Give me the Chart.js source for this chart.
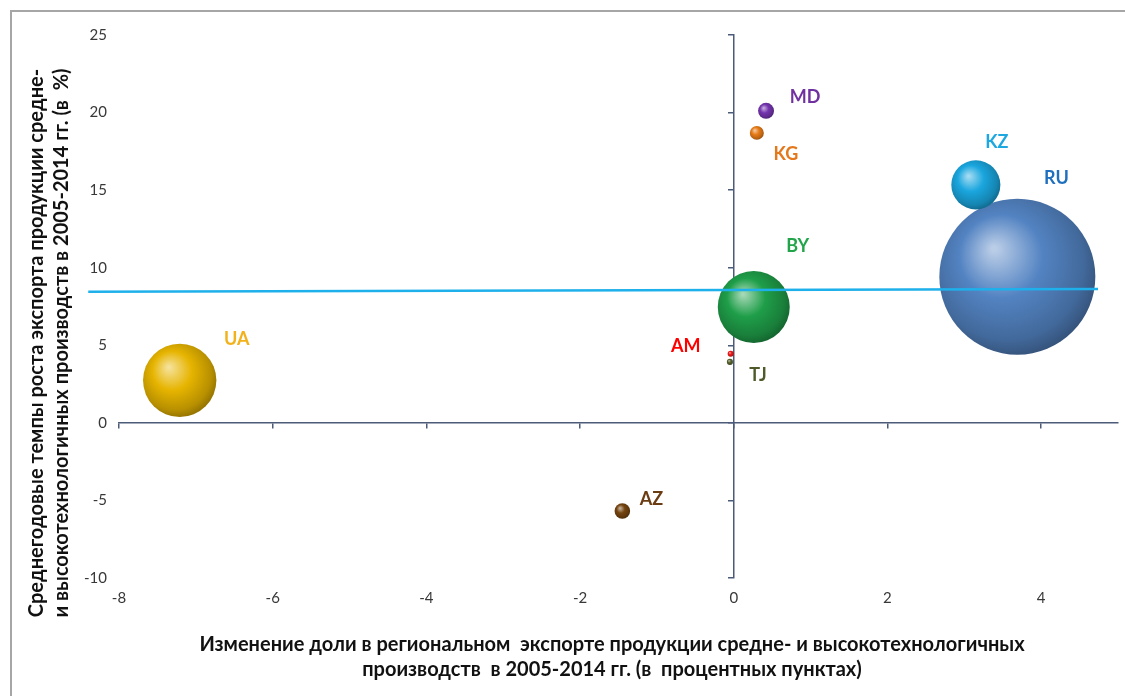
<!DOCTYPE html>
<html>
<head>
<meta charset="utf-8">
<script src="https://cdn.jsdelivr.net/npm/chart.js@4"></script>
<style>
  body { margin: 0; background: #fff; }
  .wrap { position: relative; width: 1125px; height: 696px; }
  .frame { position: absolute; left: 10px; top: 10px; right: 0; bottom: 0;
           border-top: 2px solid #a6a6a6; border-left: 2px solid #a6a6a6; pointer-events: none; }
</style>
</head>
<body>
<div class="wrap">
  <canvas id="chart" width="1125" height="696"></canvas>
  <div class="frame"></div>
</div>
<script>
// bubbles, larger ones first so small ones sit in front
const countries = ["RU", "UA", "BY", "KZ", "AZ", "MD", "KG", "AM", "TJ"];
const shareChange = [3.69, -7.21, 0.26, 3.15, -1.45, 0.42, 0.30, -0.04, -0.05];
const growthRate = [9.42, 2.74, 7.47, 15.34, -5.68, 20.11, 18.69, 4.45, 3.93];
const bubbleSize = [100, 22.1, 21.3, 9.9, 1.0, 1.05, 0.8, 0.15, 0.15];

// the hand drawn level line
const levelX = [-8.4, 4.74];
const levelY = [8.45, 8.63];

const xTicks = [-8, -6, -4, -2, 0, 2, 4];
const yTicks = [-10, -5, 0, 5, 10, 15, 20, 25];

const ballColors = ["#5383c2", "#e6b400", "#1f9e49", "#1aa6de", "#74440f", "#7434ae", "#e67a16", "#f01818", "#56632c"];
const textColors = ["#1f6fbf", "#f2b21c", "#22a54a", "#1fa7e0", "#6b3c12", "#7030a0", "#e4781c", "#ff0000", "#4f5a2a"];
const labelOffsets = [[39, -99], [57, -41], [44, -61], [21, -43], [29, -12], [39, -14], [29, 21], [-45, -8], [28, 13]];

const yTitle = ["Среднегодовые темпы роста экспорта продукции средне-",
                "и высокотехнологичных производств в 2005-2014 гг. (в  %)"];
const xTitle = ["Изменение доли в региональном  экспорте продукции средне- и высокотехнологичных",
                "производств  в 2005-2014 гг. (в  процентных пунктах)"];

const FONT = "Lato, 'Open Sans', sans-serif";
const axisColor = "#4b5b78";

function mix(hex, target, t) {
  const n = parseInt(hex.slice(1), 16);
  const c = [(n >> 16) & 255, (n >> 8) & 255, n & 255];
  return "rgb(" + c.map(v => Math.round(v + (target - v) * t)).join(",") + ")";
}

function sphere(ctx) {
  const i = ctx.dataIndex;
  if (ctx.type !== "data" || !ctx.raw) return ballColors[0];
  const chart = ctx.chart;
  const p = ctx.raw;
  const cx = chart.scales.x.getPixelForValue(p.x);
  const cy = chart.scales.y.getPixelForValue(p.y);
  const r = p.r;
  if (![cx, cy, r].every(Number.isFinite)) return ballColors[i];
  const g = chart.ctx.createRadialGradient(cx - r * 0.3, cy - r * 0.36, r * 0.03, cx - r * 0.1, cy - r * 0.14, r * 1.15);
  g.addColorStop(0, mix(ballColors[i], 255, 0.6));
  g.addColorStop(0.45, ballColors[i]);
  g.addColorStop(0.85, mix(ballColors[i], 0, 0.2));
  g.addColorStop(1, mix(ballColors[i], 0, 0.35));
  return g;
}

const pointLabels = {
  id: "pointLabels",
  afterDatasetsDraw(chart) {
    const meta = chart.getDatasetMeta(0);
    const c = chart.ctx;
    c.save();
    c.font = "bold 18px " + FONT;
    c.textAlign = "center";
    c.textBaseline = "middle";
    meta.data.forEach((el, i) => {
      c.fillStyle = textColors[i];
      c.fillText(countries[i], el.x + labelOffsets[i][0], el.y + labelOffsets[i][1]);
    });
    c.restore();
  }
};

const axisTitles = {
  id: "axisTitles",
  afterDraw(chart) {
    const c = chart.ctx;
    c.save();
    c.fillStyle = "#111";
    c.textAlign = "center";
    c.textBaseline = "alphabetic";
    c.font = "bold 20px " + FONT;
    c.fillText(xTitle[0], 612, 651);
    c.fillText(xTitle[1], 612, 676);
    c.translate(0, 343);
    c.rotate(-Math.PI / 2);
    c.fillText(yTitle[0], 0, 43);
    c.fillText(yTitle[1], 0, 68);
    c.restore();
  }
};

const keepTicks = list => scale => {
  scale.ticks = scale.ticks.filter(t => list.includes(t.value));
};

new Chart(document.getElementById("chart"), {
  data: {
    datasets: [
      {
        type: "bubble",
        order: 1,
        data: countries.map((c, i) => ({ x: shareChange[i], y: growthRate[i], r: 7.8 * Math.sqrt(bubbleSize[i]) })),
        backgroundColor: sphere,
        borderWidth: 0,
        clip: false
      },
      {
        type: "line",
        order: 0,
        data: levelX.map((x, i) => ({ x: x, y: levelY[i] })),
        borderColor: "#1eb0ea",
        borderWidth: 2.5,
        pointRadius: 0,
        clip: false
      }
    ]
  },
  options: {
    responsive: false,
    animation: false,
    events: [],
    layout: { autoPadding: false, padding: { top: 35, right: 7, left: 0, bottom: 0 } },
    plugins: { legend: { display: false }, tooltip: { enabled: false } },
    scales: {
      x: {
        type: "linear", position: "bottom", min: -8, max: 5,
        afterBuildTicks: keepTicks(xTicks),
        afterFit: s => { s.height = 118; },
        grid: { display: false, drawTicks: false },
        border: { display: false },
        ticks: { stepSize: 2, padding: 11, color: "#383838", font: { family: FONT, size: 15 } }
      },
      y: {
        type: "linear", position: "left", min: -10, max: 25,
        afterBuildTicks: keepTicks(yTicks),
        afterFit: s => { s.width = 119; },
        grid: { display: false, drawTicks: false },
        border: { display: false },
        ticks: { stepSize: 5, padding: 12, color: "#383838", font: { family: FONT, size: 15 } }
      },
      x2: {
        type: "linear", axis: "x", position: { y: 0 }, min: -8, max: 5,
        afterBuildTicks: keepTicks(xTicks),
        afterFit: s => { s.height = 0; s.paddingLeft = s.paddingRight = 0; },
        grid: { drawOnChartArea: false, drawTicks: true, tickLength: 5, color: axisColor, lineWidth: 1.5 },
        border: { color: axisColor, width: 1.5 },
        ticks: { display: false, stepSize: 2 }
      },
      y2: {
        type: "linear", axis: "y", position: { x: 0 }, min: -10, max: 25,
        afterBuildTicks: keepTicks(yTicks),
        afterFit: s => { s.width = 0; s.paddingTop = s.paddingBottom = 0; },
        grid: { drawOnChartArea: false, drawTicks: true, tickLength: 5, color: axisColor, lineWidth: 1.5 },
        border: { color: axisColor, width: 1.5 },
        ticks: { display: false, stepSize: 5 }
      }
    }
  },
  plugins: [pointLabels, axisTitles]
});
</script>
</body>
</html>
